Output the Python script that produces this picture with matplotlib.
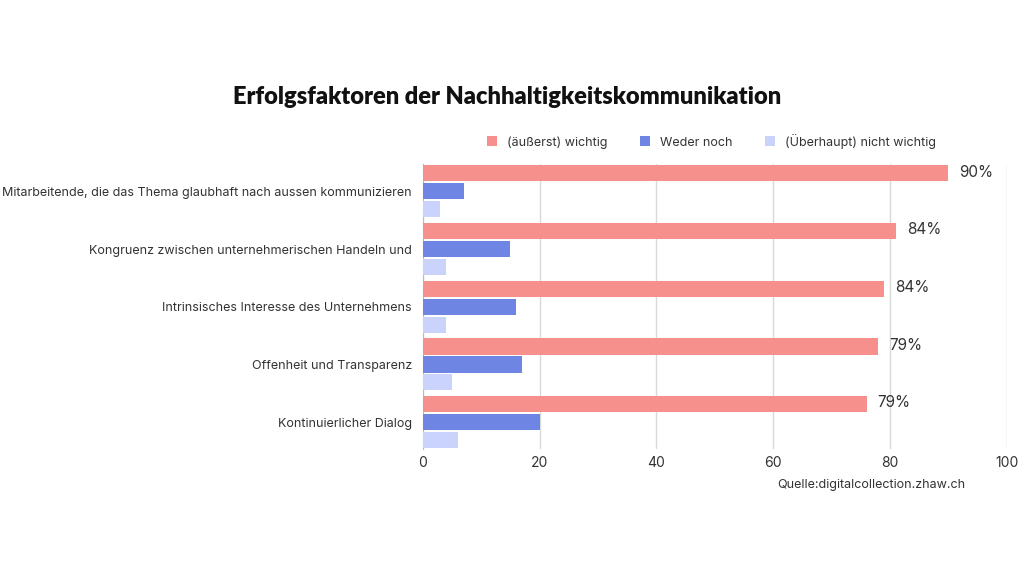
import matplotlib.pyplot as plt
import numpy as np

categories = [
    "Mitarbeitende, die das Thema glaubhaft nach aussen kommunizieren",
    "Kongruenz zwischen unternehmerischen Handeln und",
    "Intrinsisches Interesse des Unternehmens",
    "Offenheit und Transparenz",
    "Kontinuierlicher Dialog",
]
series_names = ["(äußerst) wichtig", "Weder noch", "(Überhaupt) nicht wichtig"]
wichtig = [90, 81, 79, 78, 76]
weder = [7, 15, 16, 17, 20]
nicht = [3, 4, 4, 5, 6]
value_labels = ["90%", "84%", "84%", "79%", "79%"]
x_ticks = [0, 20, 40, 60, 80, 100]

colors = ["#F5908D", "#6F85E4", "#C9D3FB"]
text_col = "#333333"

plt.rcParams['font.family'] = ['Inter', 'DejaVu Sans']

fig = plt.figure(figsize=(10.24, 5.76), dpi=100)
ax = fig.add_axes([0.413, 0.22, 0.57, 0.495])

y = np.arange(len(categories))
h = 0.28
step = 0.31
for i, (vals, c, name) in enumerate(zip([wichtig, weder, nicht], colors, series_names)):
    ax.barh(y + (i - 1) * step, vals, height=h, color=c, label=name, zorder=3)

for yi, v, lab in zip(y, wichtig, value_labels):
    ax.annotate(lab, (v, yi - step), xytext=(8, 1), textcoords='offset points',
                va='center', ha='left', fontsize=11, color=text_col)

ax.set_xlim(0, 100)
ax.set_ylim(len(categories) - 0.53, -0.47)
ax.set_xticks(x_ticks)
ax.set_yticks(y)
ax.set_yticklabels(categories, fontsize=9, color=text_col)
ax.tick_params(axis='x', labelsize=10, colors=text_col, length=0, pad=5)
ax.tick_params(axis='y', length=0, pad=8)
ax.grid(axis='x', color='#d9d9d9', linewidth=1, zorder=0)
for s in ['top', 'right', 'bottom']:
    ax.spines[s].set_visible(False)
ax.spines['left'].set_color('#bbbbbb')

fig.text(0.495, 0.832, "Erfolgsfaktoren der Nachhaltigkeitskommunikation",
         ha='center', va='center', fontsize=17, fontweight='heavy', color='#111111',
         family=['Lato', 'DejaVu Sans'])

leg = fig.legend(loc='center', bbox_to_anchor=(0.695, 0.755), ncol=3, frameon=False,
                 fontsize=9, handlelength=0.8, handleheight=0.8, columnspacing=2.6,
                 handletextpad=0.8)
for t in leg.get_texts():
    t.set_color(text_col)

fig.text(0.943, 0.158, "Quelle:digitalcollection.zhaw.ch", ha='right', va='center',
         fontsize=9, color=text_col)

fig.savefig("out.png", dpi=100, facecolor='white')
